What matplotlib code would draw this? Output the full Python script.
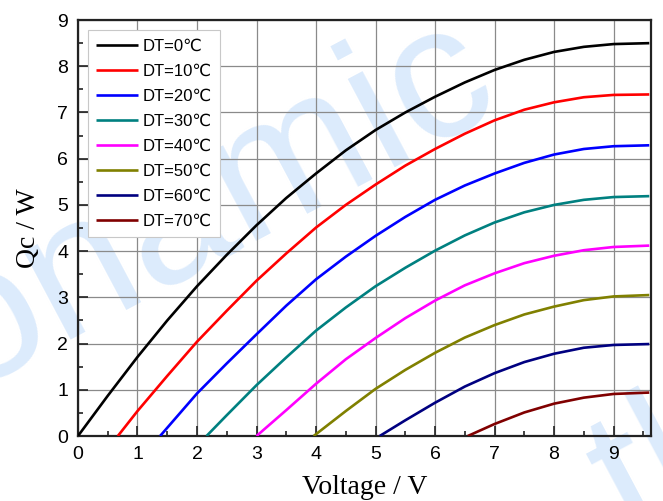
import matplotlib
matplotlib.use("Agg")
import matplotlib.pyplot as plt
import numpy as np

# ---- data ----
labels = ["DT=0℃", "DT=10℃", "DT=20℃", "DT=30℃", "DT=40℃", "DT=50℃", "DT=60℃", "DT=70℃"]
colors = ["#000000", "#ff0000", "#0000ff", "#008080", "#ff00ff", "#808000", "#000080", "#800000"]

v_dt0 = [0, 0.5, 1, 1.5, 2, 2.5, 3, 3.5, 4, 4.5, 5, 5.5, 6, 6.5, 7, 7.5, 8, 8.5, 9, 9.6]
q_dt0 = [0, 0.87, 1.71, 2.50, 3.24, 3.92, 4.56, 5.15, 5.68, 6.18, 6.62, 7.00, 7.34, 7.65, 7.92, 8.14, 8.31, 8.42, 8.48, 8.50]

v_dt10 = [0.67, 1, 1.5, 2, 2.5, 3, 3.5, 4, 4.5, 5, 5.5, 6, 6.5, 7, 7.5, 8, 8.5, 9, 9.6]
q_dt10 = [0, 0.54, 1.30, 2.04, 2.71, 3.36, 3.95, 4.51, 5.00, 5.44, 5.85, 6.21, 6.54, 6.83, 7.06, 7.22, 7.33, 7.38, 7.39]

v_dt20 = [1.38, 2, 2.5, 3, 3.5, 4, 4.5, 5, 5.5, 6, 6.5, 7, 7.5, 8, 8.5, 9, 9.6]
q_dt20 = [0, 0.92, 1.57, 2.20, 2.82, 3.39, 3.88, 4.33, 4.74, 5.11, 5.42, 5.68, 5.91, 6.09, 6.21, 6.27, 6.29]

v_dt30 = [2.16, 2.5, 3, 3.5, 4, 4.5, 5, 5.5, 6, 6.5, 7, 7.5, 8, 8.5, 9, 9.6]
q_dt30 = [0, 0.45, 1.10, 1.70, 2.28, 2.78, 3.24, 3.64, 4.01, 4.34, 4.62, 4.84, 5.00, 5.11, 5.17, 5.19]

v_dt40 = [3.0, 3.5, 4, 4.5, 5, 5.5, 6, 6.5, 7, 7.5, 8, 8.5, 9, 9.6]
q_dt40 = [0, 0.56, 1.13, 1.66, 2.12, 2.55, 2.93, 3.26, 3.52, 3.74, 3.90, 4.02, 4.09, 4.12]

v_dt50 = [3.96, 4.5, 5, 5.5, 6, 6.5, 7, 7.5, 8, 8.5, 9, 9.6]
q_dt50 = [0, 0.54, 1.02, 1.43, 1.80, 2.13, 2.40, 2.63, 2.80, 2.94, 3.02, 3.05]

v_dt60 = [5.07, 5.5, 6, 6.5, 7, 7.5, 8, 8.5, 9, 9.6]
q_dt60 = [0, 0.34, 0.72, 1.07, 1.36, 1.60, 1.78, 1.91, 1.97, 1.99]

v_dt70 = [6.55, 7, 7.5, 8, 8.5, 9, 9.6]
q_dt70 = [0, 0.26, 0.51, 0.70, 0.83, 0.91, 0.94]

series_v = [v_dt0, v_dt10, v_dt20, v_dt30, v_dt40, v_dt50, v_dt60, v_dt70]
series_q = [q_dt0, q_dt10, q_dt20, q_dt30, q_dt40, q_dt50, q_dt60, q_dt70]

xticks = [0, 1, 2, 3, 4, 5, 6, 7, 8, 9]
yticks = [0, 1, 2, 3, 4, 5, 6, 7, 8, 9]

# ---- figure ----
fig = plt.figure(figsize=(6.63, 5.01), dpi=100)

# watermark (behind everything)
wm_font = ["Liberation Sans", "DejaVu Sans"]
fig.text(0.76, 0.785, "thermonamic", fontsize=136, color="#dcebfc",
         rotation=28, rotation_mode="anchor", ha="right", va="baseline",
         family=wm_font, zorder=0)
fig.text(0.95, -0.085, "thermonamic", fontsize=136, color="#dcebfc",
         rotation=28, rotation_mode="anchor", ha="left", va="baseline",
         family=wm_font, zorder=0)

ax = fig.add_axes([0.1176, 0.1297, 0.982 - 0.1176, 0.960 - 0.1297])
ax.set_facecolor("none")
ax.set_zorder(1)

for v, q, c, lab in zip(series_v, series_q, colors, labels):
    ax.plot(v, q, color=c, lw=1.9, label=lab, zorder=3, solid_capstyle="butt",
            solid_joinstyle="round")

ax.set_xlim(0, 9.63)
ax.set_ylim(0, 9)
ax.set_xticks(xticks)
ax.set_yticks(yticks)
ax.set_xticks(np.arange(0.5, 9.6, 1.0), minor=True)
ax.set_yticks(np.arange(0.5, 9.0, 1.0), minor=True)
ax.grid(True, which="major", color="#8a8a8a", lw=0.9, zorder=1)

tick_font = dict(family=["Liberation Sans", "DejaVu Sans"], size=14)
ax.set_xticklabels([str(t) for t in xticks], **tick_font)
ax.set_yticklabels([str(t) for t in yticks], **tick_font)
ax.tick_params(which="major", direction="in", length=7, width=1.2, pad=7,
               top=False, right=False, colors="#222222", labelcolor="black")
ax.tick_params(which="minor", direction="in", length=3.5, width=1.2,
               top=False, right=False, colors="#222222")
for s in ax.spines.values():
    s.set_linewidth(1.6)
    s.set_color("#222222")

ax.set_xlabel("Voltage / V", family=["Liberation Serif", "DejaVu Serif"], size=20, labelpad=9)
ax.set_ylabel("Qc / W", family=["Liberation Serif", "DejaVu Serif"], size=20, labelpad=12)

leg = ax.legend(loc="upper left", bbox_to_anchor=(0.0175, 0.976), frameon=True,
                fancybox=False, edgecolor="#c8c8c8", framealpha=1.0,
                prop=dict(family=["Liberation Sans", "DejaVu Sans"], size=12),
                handlelength=2.5, handletextpad=0.3, labelspacing=0.6,
                borderpad=0.5, borderaxespad=0.0)
leg.get_frame().set_linewidth(0.8)
leg.set_zorder(5)

fig.savefig("out.png", dpi=100)
